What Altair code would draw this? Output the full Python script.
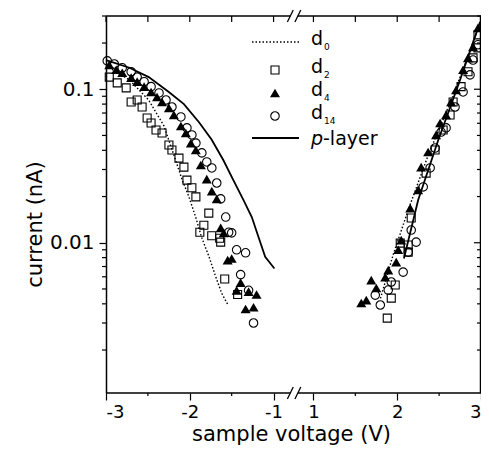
import altair as alt
import pandas as pd

# ---------------- data (voltage in V, current in nA) ----------------
SHIFT = 1.524  # broken axis: positive voltages are drawn shifted left by this amount

d0_left_v = [-3.00, -2.72, -2.49, -2.31, -2.19, -2.09, -2.01, -1.93, -1.86, -1.77, -1.69, -1.62, -1.54]
d0_left_i = [0.142, 0.115, 0.085, 0.058, 0.0373, 0.0256, 0.0199, 0.0147, 0.0109, 0.0081, 0.0060, 0.0047, 0.0039]
d0_right_v = [1.80, 1.95, 2.13, 2.37, 2.67, 2.96]
d0_right_i = [0.00434, 0.0083, 0.0163, 0.0372, 0.0916, 0.244]

pl_left_v = [-3.00, -2.72, -2.49, -2.25, -2.07, -1.89, -1.74, -1.60, -1.48, -1.36, -1.26, -1.18, -1.10, -0.99]
pl_left_i = [0.155, 0.138, 0.120, 0.096, 0.080, 0.061, 0.047, 0.0346, 0.0256, 0.0190, 0.0147, 0.0109, 0.0081, 0.0068]
pl_right_v = [2.08, 2.25, 2.49, 2.73, 2.99]
pl_right_i = [0.0079, 0.0190, 0.0467, 0.107, 0.275]

d2_v = [-2.961, -2.866, -2.759, -2.700, -2.628, -2.569, -2.509, -2.462, -2.403, -2.331, -2.249, -2.213,
        -2.129, -2.070, -2.034, -1.975, -1.927, -1.773, -1.832, -1.880, -1.738, -1.643, -1.631, -1.583, -1.429,
        1.881, 1.929, 1.976, 2.036, 2.131, 2.131, 2.167, 2.345, 2.452, 2.548, 2.631, 2.667, 2.762, 2.845,
        2.905, 2.964, 2.964]
d2_i = [0.120, 0.110, 0.102, 0.0826, 0.0851, 0.0767, 0.0650, 0.0603, 0.0543, 0.0519, 0.0433, 0.0402,
        0.0356, 0.0311, 0.0256, 0.0228, 0.0199, 0.0156, 0.0130, 0.0117, 0.0111, 0.0107, 0.0101, 0.0058, 0.0046,
        0.00323, 0.00436, 0.00530, 0.00995, 0.00966, 0.00869, 0.0145, 0.0284, 0.0402, 0.0542, 0.0680, 0.0826,
        0.104, 0.130, 0.160, 0.186, 0.226]

d4_v = [-2.961, -2.878, -2.806, -2.700, -2.628, -2.545, -2.462, -2.391, -2.331, -2.249, -2.190, -2.106,
        -2.047, -1.987, -1.928, -1.868, -1.797, -1.737, -1.678, -1.631, -1.595, -1.548, -1.500, -1.393,
        -1.441, -1.298, -1.203, -1.334, -1.239,
        1.571, 1.631, 1.690, 1.750, 1.857, 1.893, 1.988, 2.012, 2.048, 2.155, 2.250, 2.286, 2.369, 2.464,
        2.512, 2.583, 2.643, 2.702, 2.786, 2.845, 2.905, 2.964]
d4_i = [0.144, 0.134, 0.128, 0.119, 0.112, 0.104, 0.096, 0.089, 0.0826, 0.0755, 0.0680, 0.0576,
        0.0519, 0.0446, 0.0402, 0.0321, 0.0260, 0.0217, 0.0193, 0.0125, 0.0116, 0.0077, 0.0079, 0.0055,
        0.0049, 0.0048, 0.0046, 0.0037, 0.0038,
        0.00405, 0.00423, 0.00571, 0.00507, 0.00597, 0.00664, 0.00748, 0.0090, 0.0104, 0.0168, 0.0221,
        0.0311, 0.0390, 0.0504, 0.0603, 0.0680, 0.0826, 0.0989, 0.134, 0.160, 0.189, 0.251]

d14_v = [-2.985, -2.901, -2.806, -2.700, -2.628, -2.545, -2.462, -2.367, -2.284, -2.213, -2.106, -2.034,
         -1.975, -1.927, -1.856, -1.797, -1.737, -1.678, -1.631, -1.571, -1.536, -1.500, -1.441, -1.334,
         -1.393, -1.298, -1.239,
         1.738, 1.798, 1.893, 1.929, 2.071, 2.131, 2.167, 2.226, 2.310, 2.393, 2.452, 2.524, 2.583, 2.690,
         2.786, 2.869, 2.905, 2.964]
d14_i = [0.153, 0.146, 0.138, 0.130, 0.120, 0.112, 0.104, 0.0946, 0.0851, 0.0766, 0.0660, 0.0560,
         0.0504, 0.0446, 0.0385, 0.0336, 0.0307, 0.0245, 0.0193, 0.0147, 0.0117, 0.0116, 0.0090, 0.0086,
         0.0062, 0.0049, 0.0030,
         0.00456, 0.00393, 0.00492, 0.00555, 0.00644, 0.00869, 0.0121, 0.0101, 0.0231, 0.0307, 0.0414,
         0.0526, 0.0560, 0.0766, 0.096, 0.124, 0.155, 0.195]

x_tick_labels = [-3, -2, -1, 1, 2, 3]
x_minor_ticks = [-2.5, -1.5, 1.5, 2.5]
y_major_ticks = [0.01, 0.1]
y_minor_ticks = [0.002, 0.003, 0.004, 0.005, 0.006, 0.007, 0.008, 0.009,
                 0.02, 0.03, 0.04, 0.05, 0.06, 0.07, 0.08, 0.09, 0.2, 0.3]
legend_labels = ["d", "d", "d", "d"]
legend_subs = ["0", "2", "4", "14"]

# ---------------- helpers ----------------
def tr(v):
    return v if v < 0 else v - SHIFT

W, H = 375, 377
FONT = "DejaVu Sans"
X_MIN, X_MAX = -3.0, tr(3.0)
BREAK_A, BREAK_B = -0.80, -0.71

xs = alt.Scale(domain=[X_MIN, X_MAX], nice=False, zero=False)
ys = alt.Scale(type="log", domain=[0.00105, 0.3], nice=False)

xmaj_u = [tr(v) for v in x_tick_labels]
xmin_u = [tr(v) for v in x_minor_ticks]

label_expr = ("datum.value < -0.6 ? '-' + round(abs(datum.value)) : '' + round(datum.value + %.3f)" % SHIFT)

AX_X = alt.Axis(
    values=xmaj_u, labelExpr=label_expr, domain=False, grid=False, tickSize=7, tickWidth=1.2,
    tickColor="black", labelFont=FONT, labelFontSize=18, labelColor="black", labelPadding=12,
    labelBaseline="middle",
    title="sample voltage (V)", titleFont=FONT, titleFontSize=21, titleFontWeight="normal",
    titleColor="black", titleX=185, titleY=41, titleBaseline="middle", titleAnchor="middle")
AX_Y = alt.Axis(
    values=y_major_ticks, labelExpr="datum.value < 0.05 ? '0.01' : '0.1'", domain=True,
    domainColor="black", domainWidth=1.5, grid=False, tickSize=7, tickWidth=1.2, tickColor="black",
    labelFont=FONT, labelFontSize=20, labelColor="black", labelPadding=5,
    title="current (nA)", titleFont=FONT, titleFontSize=21, titleFontWeight="normal",
    titleColor="black", titleX=-71, titleY=208, titleAngle=270, titleAlign="center",
    titleBaseline="middle")


def X(f):
    return alt.X(f, scale=xs, axis=AX_X)


def Y(f):
    return alt.Y(f, scale=ys, axis=AX_Y)


def pts(vs, is_):
    return pd.DataFrame({"u": [tr(v) for v in vs], "i": is_})


def line_df(lv, li, rv, ri):
    a = pts(lv, li); a["seg"] = "L"
    b = pts(rv, ri); b["seg"] = "R"
    return pd.concat([a, b], ignore_index=True)


# main data layers
d0 = alt.Chart(line_df(d0_left_v, d0_left_i, d0_right_v, d0_right_i)).mark_line(
    color="black", strokeWidth=1.4, strokeDash=[1.5, 2]).encode(x=X("u:Q"), y=Y("i:Q"), detail="seg:N")
pl = alt.Chart(line_df(pl_left_v, pl_left_i, pl_right_v, pl_right_i)).mark_line(
    color="black", strokeWidth=1.8).encode(x=X("u:Q"), y=Y("i:Q"), detail="seg:N")
sq = alt.Chart(pts(d2_v, d2_i)).mark_point(shape="square", filled=False, color="black",
                                            size=64, strokeWidth=1.1, opacity=1).encode(x=X("u:Q"), y=Y("i:Q"))
tri = alt.Chart(pts(d4_v, d4_i)).mark_point(shape="triangle-up", filled=True, color="black",
                                             size=100, opacity=1).encode(x=X("u:Q"), y=Y("i:Q"))
cir = alt.Chart(pts(d14_v, d14_i)).mark_point(shape="circle", filled=False, color="black",
                                               size=72, strokeWidth=1.1, opacity=1).encode(x=X("u:Q"), y=Y("i:Q"))

# ---------------- frame and extra ticks ----------------
seg_df = pd.DataFrame({"u": [X_MIN, BREAK_B], "u2": [BREAK_A, X_MAX]})
bottom_line = alt.Chart(seg_df).mark_rule(color="black", strokeWidth=1.5).encode(
    x=X("u:Q"), x2="u2:Q", y=alt.value(H))
top_line = alt.Chart(seg_df).mark_rule(color="black", strokeWidth=1.5).encode(
    x=X("u:Q"), x2="u2:Q", y=alt.value(0))
right_line = alt.Chart(pd.DataFrame({"k": [0]})).mark_rule(color="black", strokeWidth=1.5).encode(
    x=alt.value(W - 0.5), y=alt.value(0), y2=alt.value(H))

slash_df = pd.DataFrame({"u": [BREAK_A - 0.035, BREAK_B - 0.035], "u2": [BREAK_A + 0.035, BREAK_B + 0.035]})
slash_bottom = alt.Chart(slash_df).mark_rule(color="black", strokeWidth=1.3).encode(
    x=X("u:Q"), x2="u2:Q", y=alt.value(H + 6), y2=alt.value(H - 6))
slash_top = alt.Chart(slash_df).mark_rule(color="black", strokeWidth=1.3).encode(
    x=X("u:Q"), x2="u2:Q", y=alt.value(6), y2=alt.value(-6))

xmin_df = pd.DataFrame({"u": xmin_u})
xall_df = pd.DataFrame({"u": xmaj_u + xmin_u})
bottom_minor = alt.Chart(xmin_df).mark_rule(color="black", strokeWidth=1.2).encode(
    x=X("u:Q"), y=alt.value(H), y2=alt.value(H + 3))
top_ticks = alt.Chart(xall_df).mark_rule(color="black", strokeWidth=1.2).encode(
    x=X("u:Q"), y=alt.value(0), y2=alt.value(6))

ymin_df = pd.DataFrame({"i": y_minor_ticks})
ymaj_df = pd.DataFrame({"i": y_major_ticks})
left_minor = alt.Chart(ymin_df).mark_rule(color="black", strokeWidth=1.2).encode(
    y=Y("i:Q"), x=alt.value(0), x2=alt.value(-4))
right_minor = alt.Chart(ymin_df).mark_rule(color="black", strokeWidth=1.2).encode(
    y=Y("i:Q"), x=alt.value(W), x2=alt.value(W - 4))
right_major = alt.Chart(ymaj_df).mark_rule(color="black", strokeWidth=1.2).encode(
    y=Y("i:Q"), x=alt.value(W), x2=alt.value(W - 7))

# ---------------- legend (inside plot) ----------------
row_y = [26, 54, 77, 100, 122]
one = pd.DataFrame({"k": [0]})
LX0, LX1, LM, LT = 146, 193, 169, 205
leg = [
    alt.Chart(one).mark_rule(color="black", strokeWidth=1.4, strokeDash=[1.5, 2]).encode(
        x=alt.value(LX0), x2=alt.value(LX1), y=alt.value(row_y[0])),
    alt.Chart(one).mark_point(shape="square", filled=False, color="black", size=64, strokeWidth=1.1,
                              opacity=1).encode(x=alt.value(LM), y=alt.value(row_y[1])),
    alt.Chart(one).mark_point(shape="triangle-up", filled=True, color="black", size=100,
                              opacity=1).encode(x=alt.value(LM), y=alt.value(row_y[2])),
    alt.Chart(one).mark_point(shape="circle", filled=False, color="black", size=72, strokeWidth=1.1,
                              opacity=1).encode(x=alt.value(LM), y=alt.value(row_y[3])),
    alt.Chart(one).mark_rule(color="black", strokeWidth=1.8).encode(
        x=alt.value(LX0), x2=alt.value(LX1), y=alt.value(row_y[4])),
]
for k in range(4):
    leg.append(alt.Chart(one).mark_text(text=legend_labels[k], font=FONT, fontSize=19, align="left",
                                        baseline="alphabetic", color="black").encode(
        x=alt.value(LT), y=alt.value(row_y[k] + 3)))
    leg.append(alt.Chart(one).mark_text(text=legend_subs[k], font=FONT, fontSize=9, align="left",
                                        baseline="alphabetic", color="black").encode(
        x=alt.value(LT + 13), y=alt.value(row_y[k] + 8)))
leg.append(alt.Chart(one).mark_text(text="p", font=FONT, fontSize=19, fontStyle="italic", align="left",
                                    baseline="alphabetic", color="black").encode(
    x=alt.value(LT), y=alt.value(row_y[4] + 7)))
leg.append(alt.Chart(one).mark_text(text="-layer", font=FONT, fontSize=19, align="left",
                                    baseline="alphabetic", color="black").encode(
    x=alt.value(LT + 12), y=alt.value(row_y[4] + 7)))

chart = alt.layer(
    d0, pl, sq, tri, cir,
    bottom_line, top_line, right_line, slash_bottom, slash_top,
    bottom_minor, top_ticks, left_minor, right_minor, right_major,
    *leg
).properties(
    width=W, height=H,
    autosize=alt.AutoSizeParams(type="none"),
    padding={"left": 98, "top": 8, "right": 0, "bottom": 52},
    background="white",
).configure_view(stroke=None)

chart.save("out.html", embed_options={"renderer": "svg", "actions": False})
